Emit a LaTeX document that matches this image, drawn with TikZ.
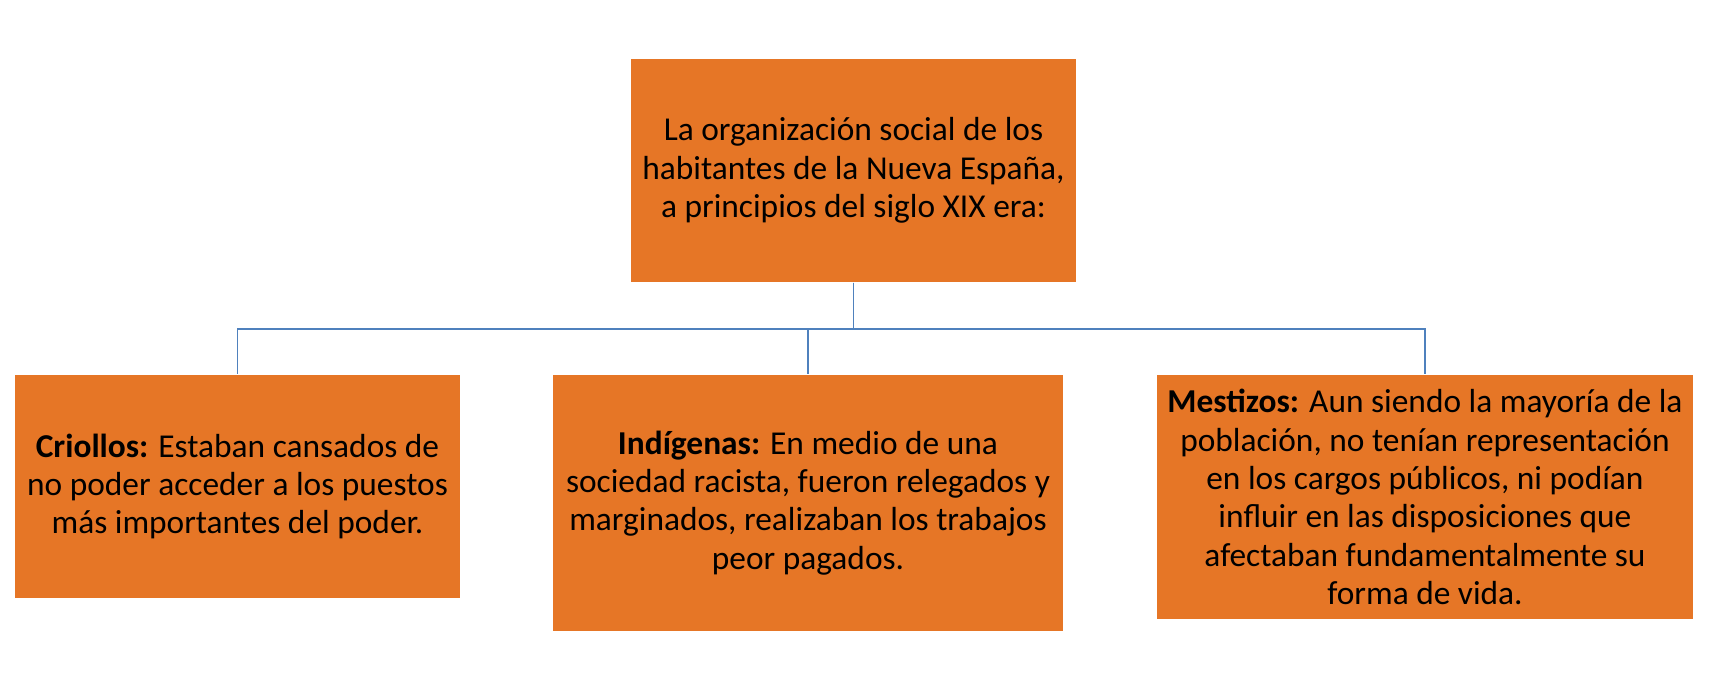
\documentclass[tikz,border=0pt]{standalone}
\usepackage{fontspec}
\setmainfont{Carlito}
\usetikzlibrary{positioning}
\usepackage{xcolor}
\definecolor{boxorange}{RGB}{230,118,38}
\definecolor{linkblue}{RGB}{79,129,189}

\begin{document}
\begin{tikzpicture}[
            box/.style={rectangle, fill=boxorange, align=center, inner sep=0pt, font=\fontsize{9.5pt}{10.9pt}\selectfont},
            link/.style={draw=linkblue, line width=0.4pt}
        ]
            \useasboundingbox (0,0) rectangle (17.19,6.90);

            % --- RAIZ ---
            \node[box, minimum width=4.45cm, minimum height=2.23cm] (top) at (8.535,5.195)
                {La organización social de los\\habitantes de la Nueva España,\\a principios del siglo XIX era:};

            % --- GRUPOS ---
            \node[box, minimum width=4.45cm, minimum height=2.23cm] (criollos) at (2.375,2.035)
                {\textbf{Criollos:} Estaban cansados de\\no poder acceder a los puestos\\más importantes del poder.};
            \node[box, minimum width=5.10cm, minimum height=2.56cm] (indigenas) at (8.08,1.87)
                {\textbf{Indígenas:} En medio de una\\sociedad racista, fueron relegados y\\marginados, realizaban los trabajos\\peor pagados.};
            \node[box, minimum width=5.36cm, minimum height=2.44cm] (mestizos) at (14.25,1.93)
                {\textbf{Mestizos:} Aun siendo la mayoría de la\\población, no tenían representación\\en los cargos públicos, ni podían\\influir en las disposiciones que\\afectaban fundamentalmente su\\forma de vida.};

            % --- LIGACOES ---
            \coordinate (bus) at (0,3.61);
            \foreach \child in {criollos,indigenas,mestizos}
                \draw[link] (top.south) -- (top.south |- bus) -| (\child.north);

        \end{tikzpicture}
\end{document}
